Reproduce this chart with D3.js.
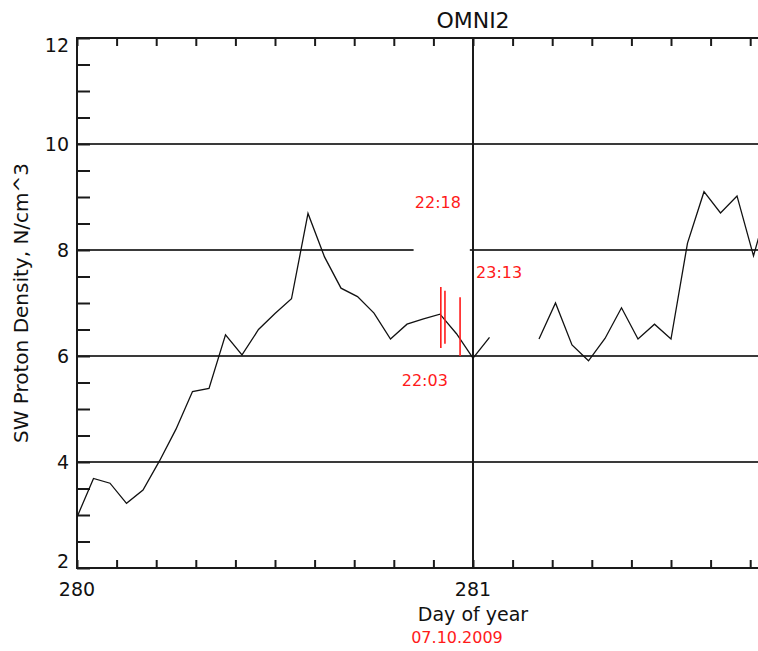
<!DOCTYPE html>
<html>
<head>
<meta charset="utf-8">
<script src="https://cdn.jsdelivr.net/npm/d3@7"></script>
<style>
  html, body { margin: 0; padding: 0; background: #fff; overflow: hidden; }
  svg { display: block; }
  text { font-family: "DejaVu Sans", sans-serif; }
</style>
</head>
<body>
<svg id="chart" width="758" height="651"></svg>
<script>
// ---- data ----
const chartTitle = "OMNI2";
const xTitle = "Day of year";
const yTitle = "SW Proton Density, N/cm^3";
const dateText = "07.10.2009";

const startDay = 280;              // first hourly sample is at day 280.0
// hourly solar-wind proton density (null = data gap)
const hourlyDensity = [
  2.96, 3.69, 3.60, 3.22, 3.47, 4.02, 4.62, 5.33, 5.39, 6.40,
  6.02, 6.50, 6.80, 7.08, 8.69, 7.87, 7.28, 7.12, 6.81, 6.32,
  6.60, 6.70, 6.79, 6.42, 5.96, 6.35, null, null, 6.32, 7.00,
  6.21, 5.91, 6.33, 6.91, 6.32, 6.60, 6.32, 8.13, 9.10, 8.70,
  9.02, 7.89, 9.00
];

const yLabelTicks = [2, 4, 6, 8, 10, 12];
const yGridValues = [4, 6, 8, 10];
const xLabelTicks = [280, 281];

// event markers (UT times on day 280) and their vertical extent
const markerTimes = ["22:03", "22:18", "23:13"];
const markerLow   = [6.15, 6.23, 6.00];
const markerHigh  = [7.30, 7.23, 7.11];

// ---- layout ----
const W = 758, H = 651;
const plot = { left: 77, top: 38, bottom: 568, pxPerDay: 396 };
const xDomain = [280, 282];
const yDomain = [2, 12];
const gapOn8 = [280.85, 280.992];   // break in the 8 reference line
const markerLabelOffset = [        // label placement relative to each marker
  { dx: 7,  y: 5.43, anchor: "end" },   // below the markers
  { dx: 16, y: 8.79, anchor: "end" },   // above
  { dx: 16, y: 7.47, anchor: "start" }  // right of day 281
];
const markerLabelShow = [0, 1, 2];

const svg = d3.select("#chart");

const x = d3.scaleLinear()
  .domain(xDomain)
  .range([plot.left, plot.left + plot.pxPerDay * (xDomain[1] - xDomain[0])]);
const y = d3.scaleLinear().domain(yDomain).range([plot.bottom, plot.top]);

const xRight = x.range()[1];
const gridColor = "#3a3a3a";
const axisColor = "#1a1a1a";

// horizontal reference lines
yGridValues.forEach(v => {
  const segs = v === 8
    ? [[xDomain[0], gapOn8[0]], [gapOn8[1], xDomain[1]]]
    : [[xDomain[0], xDomain[1]]];
  segs.forEach(s => {
    svg.append("line")
      .attr("x1", x(s[0])).attr("x2", x(s[1]))
      .attr("y1", y(v)).attr("y2", y(v))
      .attr("stroke", gridColor).attr("stroke-width", 2);
  });
});

// vertical line at day 281
svg.append("line")
  .attr("x1", x(281)).attr("x2", x(281))
  .attr("y1", y(yDomain[1])).attr("y2", y(yDomain[0]))
  .attr("stroke", axisColor).attr("stroke-width", 2);

// minor ticks: every 0.1 day on x, every 0.5 on y
const xMinor = d3.range(0, 21).map(i => xDomain[0] + i * 0.1);
const yMinor = d3.range(0, 21).map(i => yDomain[0] + i * 0.5);

svg.append("g")
  .attr("transform", `translate(0,${plot.bottom})`)
  .call(d3.axisTop(x).tickValues(xMinor).tickSize(8).tickFormat(""))
  .call(g => g.select(".domain").remove())
  .call(g => g.selectAll("line").attr("stroke", axisColor).attr("stroke-width", 2));

svg.append("g")
  .attr("transform", `translate(0,${plot.top})`)
  .call(d3.axisBottom(x).tickValues(xMinor).tickSize(8).tickFormat(""))
  .call(g => g.select(".domain").remove())
  .call(g => g.selectAll("line").attr("stroke", axisColor).attr("stroke-width", 2));

svg.append("g")
  .attr("transform", `translate(${plot.left},0)`)
  .call(d3.axisRight(y).tickValues(yMinor).tickSize(13).tickFormat(""))
  .call(g => g.select(".domain").remove())
  .call(g => g.selectAll("line").attr("stroke", axisColor).attr("stroke-width", 2));

// frame
svg.append("path")
  .attr("d", `M${xRight},${plot.top}H${plot.left}V${plot.bottom}H${xRight}`)
  .attr("fill", "none").attr("stroke", axisColor).attr("stroke-width", 2);

// y tick labels (kept inside the axis extent at the ends)
const capH = 14;
svg.append("g").selectAll("text").data(yLabelTicks).join("text")
  .attr("x", plot.left - 8)
  .attr("y", d => Math.max(plot.top + capH, Math.min(plot.bottom, y(d) + capH / 2)))
  .attr("text-anchor", "end")
  .attr("font-size", 19)
  .attr("fill", "#111")
  .text(d => d);

// x tick labels
svg.append("g").selectAll("text").data(xLabelTicks).join("text")
  .attr("x", d => x(d))
  .attr("y", plot.bottom + 28)
  .attr("text-anchor", "middle")
  .attr("font-size", 19)
  .attr("fill", "#111")
  .text(d => d);

// titles
svg.append("text")
  .attr("x", x(281)).attr("y", 28)
  .attr("text-anchor", "middle").attr("font-size", 22).attr("fill", "#111")
  .text(chartTitle);

svg.append("text")
  .attr("x", x(281)).attr("y", 621)
  .attr("text-anchor", "middle").attr("font-size", 19).attr("fill", "#111")
  .text(xTitle);

svg.append("text")
  .attr("transform", `translate(28,303) rotate(-90)`)
  .attr("text-anchor", "middle").attr("font-size", 20).attr("fill", "#111")
  .text(yTitle);

svg.append("text")
  .attr("x", 457).attr("y", 643)
  .attr("text-anchor", "middle").attr("font-size", 16).attr("fill", "#ff1a1a")
  .text(dateText);

// density curve
const pts = hourlyDensity.map((v, i) => ({ day: startDay + i / 24, v }));
const line = d3.line()
  .defined(d => d.v !== null)
  .x(d => x(d.day))
  .y(d => y(d.v));

svg.append("defs").append("clipPath").attr("id", "plotClip")
  .append("rect")
  .attr("x", plot.left).attr("y", plot.top)
  .attr("width", xRight - plot.left).attr("height", plot.bottom - plot.top);

svg.append("path")
  .datum(pts)
  .attr("clip-path", "url(#plotClip)")
  .attr("d", line)
  .attr("fill", "none")
  .attr("stroke", "#111")
  .attr("stroke-width", 1.3)
  .attr("stroke-linejoin", "miter");

// event markers
const timeToDay = t => {
  const [h, m] = t.split(":").map(Number);
  return startDay + (h * 60 + m) / 1440;
};
const markers = markerTimes.map((t, i) => ({
  t, day: timeToDay(t), lo: markerLow[i], hi: markerHigh[i]
}));

svg.append("g").selectAll("line").data(markers).join("line")
  .attr("x1", d => x(d.day)).attr("x2", d => x(d.day))
  .attr("y1", d => y(d.hi)).attr("y2", d => y(d.lo))
  .attr("stroke", "#ff1a1a").attr("stroke-width", 1.6);

svg.append("g").selectAll("text").data(markerLabelShow).join("text")
  .attr("x", i => x(markers[i].day) + markerLabelOffset[i].dx)
  .attr("y", i => y(markerLabelOffset[i].y))
  .attr("text-anchor", i => markerLabelOffset[i].anchor)
  .attr("font-size", 16)
  .attr("fill", "#ff1a1a")
  .text(i => markers[i].t);
</script>
</body>
</html>
